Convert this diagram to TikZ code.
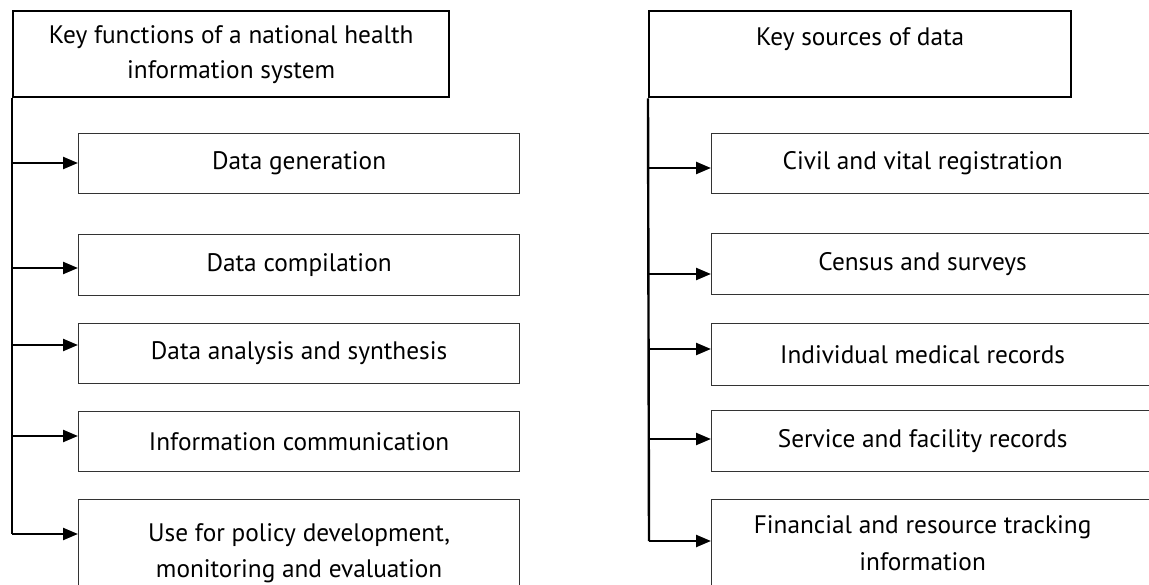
\documentclass[tikz,border=0pt]{standalone}
\usepackage{fontspec}
\setmainfont{PT Sans}
\usetikzlibrary{arrows.meta}
\begin{document}
\begin{tikzpicture}[x=1pt,y=-1pt,
  hdr/.style={draw=black, line width=2.4pt, minimum width=436pt, minimum height=86pt, anchor=north west, align=center, inner sep=0pt, font=\fontsize{25.3}{35}\selectfont},
  item/.style={draw=black!80, line width=1.2pt, minimum width=441pt, anchor=north west, align=center, inner sep=0pt, font=\fontsize{25.3}{36}\selectfont},
  ritem/.style={item, minimum width=460pt},
  trunk/.style={line width=2.4pt},
  arr/.style={line width=2.4pt, -{Triangle[length=15pt,width=12pt]}}]
\useasboundingbox (0,0) rectangle (1149,585);
% left column
\node[hdr] (Lh) at (12,10) {Key functions of a national health\\information system};
\node[item, minimum height=60pt] (L1) at (78,133) {Data generation};
\node[item, minimum height=61pt] (L2) at (78,234) {Data compilation};
\node[item, minimum height=60pt] (L3) at (78,323) {Data analysis and synthesis};
\node[item, minimum height=60pt] (L4) at (78,411) {Information communication};
\node[item, minimum height=108pt] (L5) at (78,499) {Use for policy development,\\monitoring and evaluation};
\coordinate (Lend) at (12,534);
\draw[trunk] (Lh.south west) -- (Lend);
\foreach \n/\y in {1/163,2/268,3/345,4/436} {
  \coordinate (la\n) at (12,\y);
  \draw[arr] (la\n) -- (la\n -| L\n.west);
}
\draw[arr] (Lend) -- (Lend -| L5.west);
% right column
\node[hdr, minimum width=422pt] (Rh) at (648,10) {Key sources of data\\~};
\node[ritem, minimum height=60pt] (R1) at (711,133) {\hspace*{-38pt}Civil and vital registration};
\node[ritem, minimum height=61pt] (R2) at (711,233) {\hspace*{-38pt}Census and surveys};
\node[ritem, minimum height=62pt] (R3) at (711,323) {\hspace*{-38pt}Individual medical records};
\node[ritem, minimum height=61pt] (R4) at (711,410) {\hspace*{-38pt}Service and facility records};
\node[ritem, minimum height=88pt, font=\fontsize{25.3}{37}\selectfont] (R5) at (711,499) {\hspace*{-38pt}Financial and resource tracking\\\hspace*{-38pt}information};
\coordinate (Rend) at (649,541);
\draw[trunk] (Rh.south west) -- (Rend);
\foreach \n/\y in {1/168,2/274,3/349,4/439} {
  \coordinate (ra\n) at (649,\y);
  \draw[arr] (ra\n) -- (ra\n -| R\n.west);
}
\draw[arr] (Rend) -- (Rend -| R5.west);
\end{tikzpicture}
\end{document}
